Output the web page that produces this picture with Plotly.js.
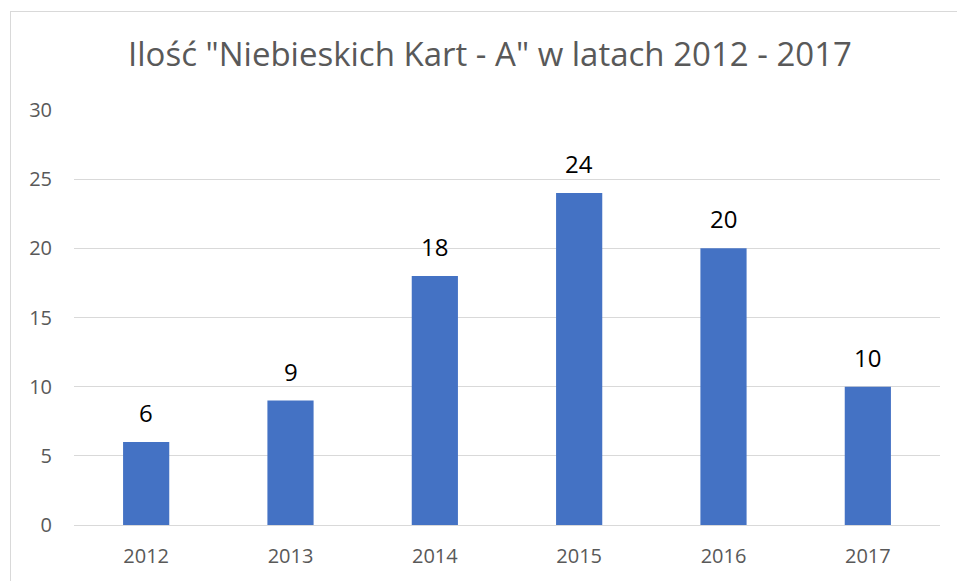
<!DOCTYPE html>
<html><head><meta charset="utf-8">
<script src="https://cdn.plot.ly/plotly-3.0.1.min.js"></script>
<style>
html,body{margin:0;padding:0;background:#fff;overflow:hidden;}
#frame{position:absolute;left:10px;top:11px;width:1000px;height:1000px;border-left:1px solid #D9D9D9;border-top:1px solid #D9D9D9;}
#chart{position:absolute;left:0;top:0;width:957px;height:581px;}
</style>
</head><body>
<div id="frame"></div>
<div id="chart"></div>
<script>
const years = ['2012','2013','2014','2015','2016','2017'];
const counts = [6, 9, 18, 24, 20, 10];
const yTicks = [0, 5, 10, 15, 20, 25, 30];
const titleText = 'Ilość "Niebieskich Kart - A" w latach 2012 - 2017';

const FONT = '"Open Sans", sans-serif';

const trace = {
  type: 'bar',
  x: years,
  y: counts,
  marker: {color: '#4472C4'},
  hoverinfo: 'x+y'
};

const annotations = years.map((yr, i) => ({
  x: i, y: counts[i], text: String(counts[i]),
  xref: 'x', yref: 'y',
  showarrow: false, yanchor: 'bottom', yshift: 11,
  font: {family: FONT, size: 24, color: '#000000'}
}));

const layout = {
  width: 957, height: 581,
  paper_bgcolor: 'rgba(0,0,0,0)',
  plot_bgcolor: 'rgba(0,0,0,0)',
  margin: {l: 74, r: 17, t: 110, b: 56},
  bargap: 0.68,
  showlegend: false,
  title: {
    text: titleText,
    font: {family: FONT, size: 33, color: '#595959'},
    x: 0.512, xanchor: 'center', y: 0.907, yanchor: 'middle'
  },
  xaxis: {
    type: 'category',
    categoryarray: years,
    range: [-0.5, 5.5],
    tickfont: {family: FONT, size: 20, color: '#595959'},
    showgrid: false, zeroline: false, showline: false,
    ticks: '', ticklabelstandoff: 17
  },
  yaxis: {
    range: [0, 30],
    tickvals: yTicks,
    tickfont: {family: FONT, size: 20, color: '#595959'},
    showgrid: true, gridcolor: '#D9D9D9', gridwidth: 1,
    zeroline: true, zerolinecolor: '#D9D9D9', zerolinewidth: 1,
    showline: false, ticks: '', ticklabelstandoff: 21
  },
  annotations: annotations
};

Plotly.newPlot('chart', [trace], layout, {displayModeBar: false, staticPlot: true});
</script>
</body></html>
